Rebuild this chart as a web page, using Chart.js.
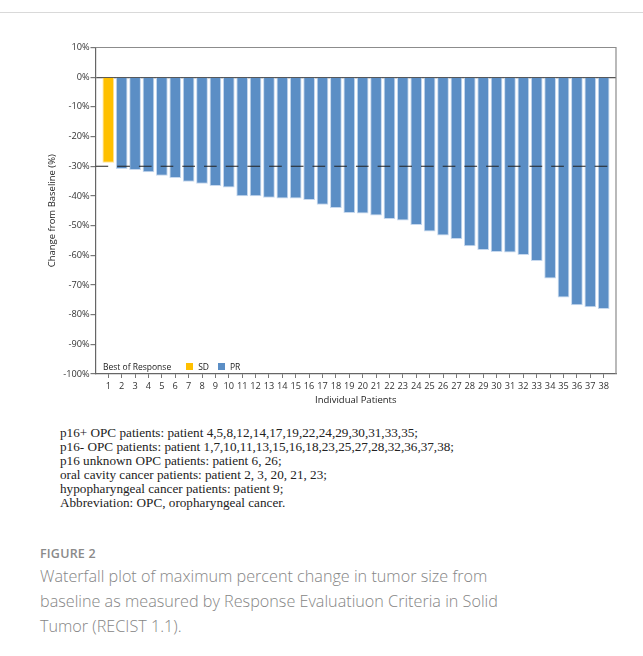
<!DOCTYPE html>
<html>
<head>
<meta charset="utf-8">
<script src="https://cdn.jsdelivr.net/npm/chart.js@4.4.1/dist/chart.umd.min.js"></script>
<style>
  html, body { margin: 0; padding: 0; background: #fff; }
  body { width: 643px; height: 656px; position: relative; overflow: hidden; }
  .topline { position: absolute; left: 0; top: 12px; width: 643px; height: 1px; background: #d9d9d9; }
  #wrap { position: absolute; left: 0; top: 0; width: 643px; height: 410px; }
  #legend { position: absolute; left: 103px; top: 361px; font: 8.5px "Open Sans", sans-serif; color: #222;
            display: flex; align-items: center; white-space: nowrap; }
  #legend .title { margin-right: 15px; }
  #legend .item { display: flex; align-items: center; margin-right: 9px; }
  #legend .sw { width: 7px; height: 7px; margin-right: 5px; }
  .notes { position: absolute; left: 60px; top: 426px; font: 13.2px "Liberation Serif", "Times New Roman", serif;
           line-height: 14.1px; color: #222; white-space: nowrap; }
  .fig { position: absolute; left: 40px; top: 545px; font: 600 12.5px "Open Sans", sans-serif; color: #8a8a8a;
         letter-spacing: 0.2px; }
  .caption { position: absolute; left: 40px; top: 564px; font: 300 16.2px "Open Sans", sans-serif; color: #858585;
             line-height: 25px; white-space: nowrap; }
</style>
</head>
<body>
<div class="topline"></div>
<div id="wrap"><canvas id="c" width="643" height="410"></canvas></div>
<div id="legend"></div>
<div class="notes">
  p16+ OPC patients: patient 4,5,8,12,14,17,19,22,24,29,30,31,33,35;<br>
  p16- OPC patients: patient 1,7,10,11,13,15,16,18,23,25,27,28,32,36,37,38;<br>
  p16 unknown OPC patients: patient 6, 26;<br>
  oral cavity cancer patients: patient 2, 3, 20, 21, 23;<br>
  hypopharyngeal cancer patients: patient 9;<br>
  Abbreviation: OPC, oropharyngeal cancer.
</div>
<div class="fig">FIGURE 2</div>
<div class="caption">
  Waterfall plot of maximum percent change in tumor size from<br>
  baseline as measured by Response Evaluatiuon Criteria in Solid<br>
  Tumor (RECIST 1.1).
</div>
<script>
// Patient numbers along the x axis
const patients = [1,2,3,4,5,6,7,8,9,10,11,12,13,14,15,16,17,18,19,20,
                  21,22,23,24,25,26,27,28,29,30,31,32,33,34,35,36,37,38];
// Best percent change from baseline for each patient (same order)
const changes = [-28.8,-30.9,-31.3,-32.0,-33.2,-34.0,-35.2,-35.9,-36.7,-37.2,
                 -40.1,-40.1,-40.6,-40.9,-40.9,-41.4,-43.0,-44.1,-45.8,-45.9,
                 -46.6,-47.8,-48.3,-49.8,-52.0,-53.3,-54.5,-57.0,-58.2,-58.9,
                 -59.1,-59.9,-61.9,-67.8,-74.2,-76.8,-77.5,-78.1];
// Best overall response per patient
const responses = ['SD','PR','PR','PR','PR','PR','PR','PR','PR','PR',
                   'PR','PR','PR','PR','PR','PR','PR','PR','PR','PR',
                   'PR','PR','PR','PR','PR','PR','PR','PR','PR','PR',
                   'PR','PR','PR','PR','PR','PR','PR','PR'];
const responseGroups = ['SD', 'PR'];
const yTicks = [10,0,-10,-20,-30,-40,-50,-60,-70,-80,-90,-100];
const prThreshold = -30;   // RECIST partial-response cut-off

const colors = { SD: '#FFC000', PR: '#5B8EC5' };
const edges  = { SD: '#FFE39A', PR: '#C6D8EE' };

const X_MIN = 0.045, X_MAX = 38.92;

const barSets = responseGroups.map(g => ({
  type: 'bar',
  label: g,
  data: patients.map((p, i) => ({ x: p, y: changes[i] })).filter((d, i) => responses[i] === g),
  backgroundColor: colors[g],
  borderColor: edges[g],
  borderWidth: 1,
  borderSkipped: 'start',
  grouped: false,
  barPercentage: 0.875,
  categoryPercentage: 1.0,
  order: 2
}));

const thresholdLine = {
  type: 'line',
  label: 'threshold',
  data: [{ x: X_MIN, y: prThreshold }, { x: X_MAX, y: prThreshold }],
  borderColor: '#222',
  borderWidth: 1.2,
  borderDash: [12.7, 9],
  pointRadius: 0,
  fill: false,
  order: 1
};

// top and right edges of the plot frame
const framePlugin = {
  id: 'frame',
  afterDatasetsDraw(chart) {
    const { ctx, chartArea: a } = chart;
    ctx.save();
    ctx.strokeStyle = '#8c8c8c';
    ctx.lineWidth = 1.2;
    ctx.beginPath();
    ctx.moveTo(a.left, a.top);
    ctx.lineTo(a.right, a.top);
    ctx.lineTo(a.right, a.bottom);
    ctx.stroke();
    ctx.restore();
  }
};

const font = { family: '"Open Sans", sans-serif', size: 9.2 };
const titleFont = { family: '"Open Sans", sans-serif', size: 9.5 };

const chart = new Chart(document.getElementById('c'), {
  type: 'bar',
  data: { datasets: [...barSets, thresholdLine] },
  options: {
    responsive: false,
    animation: false,
    devicePixelRatio: 1,
    layout: { padding: { top: 47.5, right: 27, left: 0, bottom: 0 } },
    plugins: { legend: { display: false }, tooltip: { enabled: false } },
    scales: {
      x: {
        type: 'linear',
        offset: false,
        min: X_MIN,
        max: X_MAX,
        afterBuildTicks: s => { s.ticks = patients.map(v => ({ value: v })); },
        afterFit: s => { s.height = 36; },
        ticks: { font, color: '#333', padding: 3, autoSkip: false, maxRotation: 0,
                 callback: v => String(v) },
        grid: { offset: false, drawOnChartArea: false, tickLength: 4, color: '#777', tickWidth: 1 },
        border: { color: '#666', width: 1.2 },
        title: { display: true, text: 'Individual Patients', color: '#222',
                 font: titleFont, padding: { top: 0, bottom: 4.2 } }
      },
      y: {
        min: -100,
        max: 10,
        afterBuildTicks: s => { s.ticks = yTicks.map(v => ({ value: v })); },
        afterFit: s => { s.width = 95.5; },
        ticks: { font, color: '#333', padding: 1, callback: v => v + '%' },
        grid: {
          drawOnChartArea: true,
          tickLength: 5,
          tickColor: '#777',
          color: c => (c.tick && c.tick.value === 0 ? '#555' : 'rgba(0,0,0,0)'),
          lineWidth: 1.2
        },
        border: { color: '#666', width: 1.2 },
        title: { display: true, text: 'Change from Baseline (%)', color: '#222',
                 font: titleFont, padding: { top: 47, bottom: 0 } }
      }
    }
  },
  plugins: [framePlugin]
});

// legend built from the bar datasets
const legend = document.getElementById('legend');
legend.innerHTML = '<span class="title">Best of Response</span>' +
  chart.data.datasets.filter(d => d.type === 'bar').map(d =>
    `<span class="item"><span class="sw" style="background:${d.backgroundColor}"></span>${d.label}</span>`
  ).join('');
</script>
</body>
</html>
